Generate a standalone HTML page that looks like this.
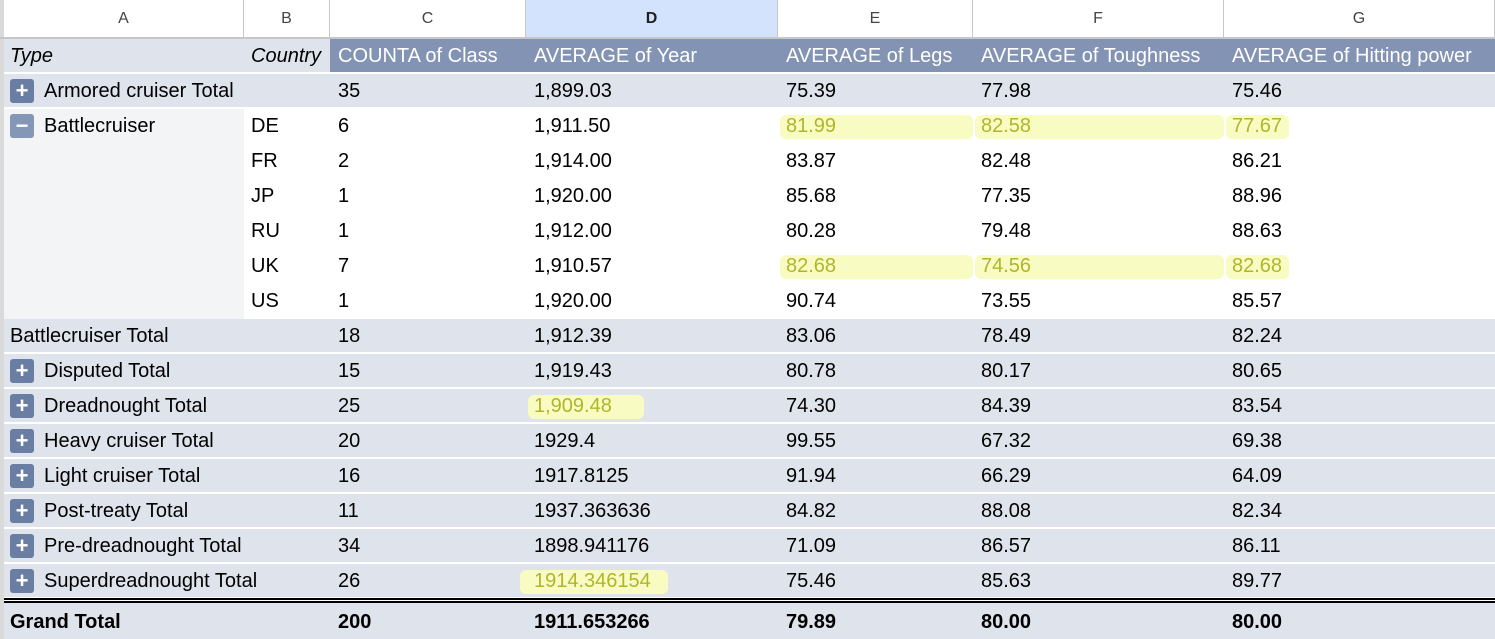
<!DOCTYPE html>
<html><head><meta charset="utf-8"><style>
body{margin:0;width:1495px;height:639px;overflow:hidden;background:#fff;font-family:"Liberation Sans",Arial,sans-serif;position:relative}
.a{position:absolute;box-sizing:border-box}
.t{position:absolute;font-size:20px;line-height:20px;white-space:nowrap;color:#000}
.ch{position:absolute;top:0;height:37px;font-size:16px;color:#444;text-align:center;line-height:37px;border-right:1px solid #c7c7c7;box-sizing:border-box}
.ic{position:absolute;width:24px;height:24px;border-radius:3px;color:#fff;font-size:22px;line-height:23px;text-align:center;font-weight:bold}
.hl{position:absolute;background:#f8fbc2;border-radius:6px}
</style></head><body>
<div id="root"></div>
<script>
const colX=[4,244,330,526,778,973,1224,1495];
const colLetters=['A','B','C','D','E','F','G'];
const headers=['COUNTA of Class','AVERAGE of Year','AVERAGE of Legs','AVERAGE of Toughness','AVERAGE of Hitting power'];
const rows=[
['Armored cruiser Total','','+','35','1,899.03','75.39','77.98','75.46'],
['Battlecruiser','DE','-','6','1,911.50','81.99','82.58','77.67'],
['','FR','','2','1,914.00','83.87','82.48','86.21'],
['','JP','','1','1,920.00','85.68','77.35','88.96'],
['','RU','','1','1,912.00','80.28','79.48','88.63'],
['','UK','','7','1,910.57','82.68','74.56','82.68'],
['','US','','1','1,920.00','90.74','73.55','85.57'],
['Battlecruiser Total','','n','18','1,912.39','83.06','78.49','82.24'],
['Disputed Total','','+','15','1,919.43','80.78','80.17','80.65'],
['Dreadnought Total','','+','25','1,909.48','74.30','84.39','83.54'],
['Heavy cruiser Total','','+','20','1929.4','99.55','67.32','69.38'],
['Light cruiser Total','','+','16','1917.8125','91.94','66.29','64.09'],
['Post-treaty Total','','+','11','1937.363636','84.82','88.08','82.34'],
['Pre-dreadnought Total','','+','34','1898.941176','71.09','86.57','86.11'],
['Superdreadnought Total','','+','26','1914.346154','75.46','85.63','89.77']];
const grand=['Grand Total','200','1911.653266','79.89','80.00','80.00'];
const hl={'1':[4,5,6],'5':[4,5,6],'9':[3],'14':[3]};
const R=document.body;
function el(cls,css,txt){const d=document.createElement('div');d.className=cls;d.style.cssText=css;if(txt!==undefined)d.textContent=txt;R.appendChild(d);return d;}
let s=el('a','left:0;top:0;width:4px;height:639px;background:#dadada');


colLetters.forEach((L,i)=>{const d=el('ch',`left:${colX[i]}px;width:${colX[i+1]-colX[i]}px;${i==3?'background:#d3e3fd;font-weight:bold;color:#1f1f1f':''}`,L);

});
s=el('a','left:0;top:37px;width:1495px;height:2px;background:#c7c7c7');


// pivot header
s=el('a','left:4px;top:39px;width:326px;height:33px;background:#dfe3eb');


s=el('a','left:330px;top:39px;width:1165px;height:33px;background:#8393b3');


s=el('t','left:10px;top:46px;font-style:italic','Type');


s=el('t','left:251px;top:46px;font-style:italic','Country');


headers.forEach((h,i)=>{const d=el('t',`left:${colX[i+2]+8}px;top:46px;color:#fff`,h);

});
rows.forEach((r,i)=>{const y=74+35*i;const sub=(i>=1&&i<=6);
if(sub){const a=el('a',`left:4px;top:${y}px;width:240px;height:35px;background:#f3f4f6`);

}
else{const b=el('a',`left:4px;top:${y}px;width:1491px;height:33px;background:#dfe3eb`);

}
(hl[i]||[]).forEach(c=>{let x0=colX[c]+2,x1=c==3?colX[c]+(i==14?142:118):colX[c+1]+(c==6?-206:0);
if(c==3&&i==14)x0=colX[c]-6;
const h=el('hl',`left:${x0}px;top:${y+6}px;width:${x1-x0}px;height:24px`);

});
if(r[2]=='+'||r[2]=='-'){const ic=el('ic',`left:10px;top:${y+5}px;background:${r[2]=='+'?'#6a7ea3':'#8497b6'}`,r[2]=='+'?'+':'−');

}
if(r[0]){const t=el('t',`left:${r[2]=='n'?10:44}px;top:${y+7}px`,r[0]);

}
if(r[1]){const t=el('t',`left:251px;top:${y+7}px`,r[1]);

}
for(let c=2;c<7;c++){const isHl=(hl[i]||[]).includes(c);
const t=el('t',`left:${colX[c]+8}px;top:${y+7}px;${isHl?'color:#b0b62a':''}`,r[c+1]);

}
});
s=el('a','left:4px;top:598px;width:1491px;height:5px;border-top:2px solid #000;border-bottom:2px solid #000');


s=el('a','left:4px;top:603px;width:1491px;height:36px;background:#dfe3eb');


grand.forEach((g,i)=>{const x=i==0?10:colX[i+1]+8;
const t=el('t',`left:${x}px;top:612px;font-weight:bold`,g);

});
</script>
</body></html>
